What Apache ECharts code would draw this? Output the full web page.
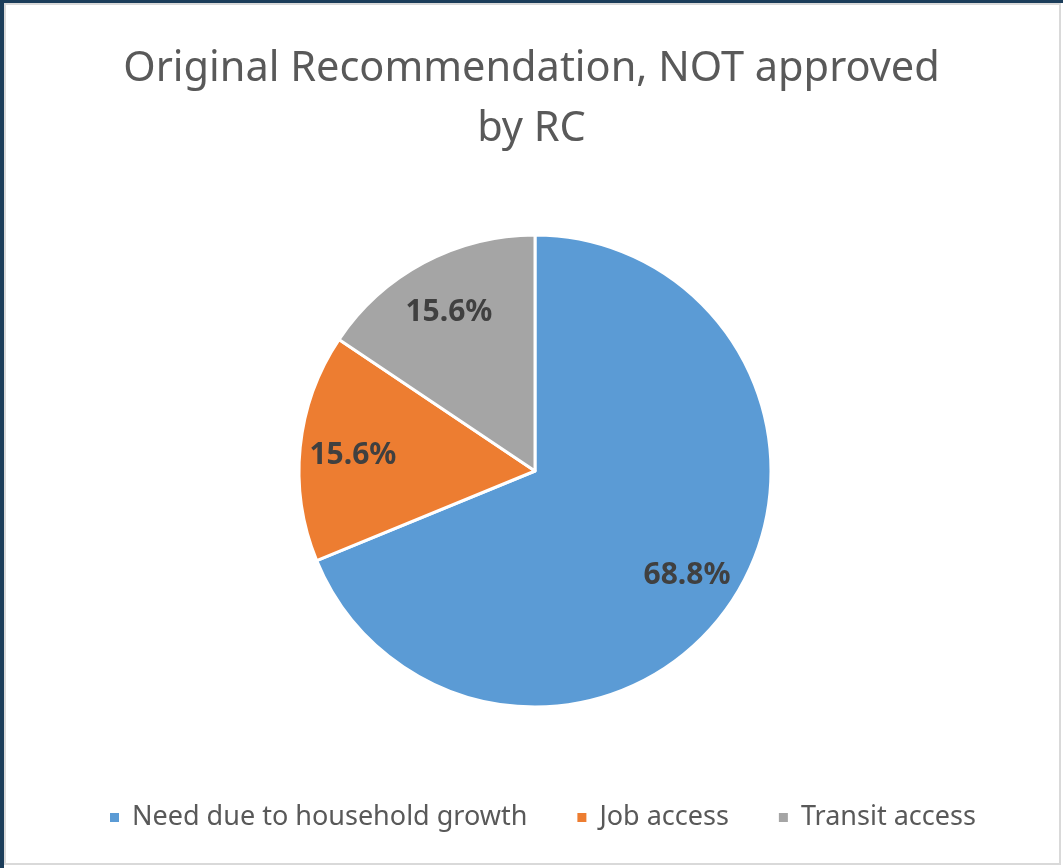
<!DOCTYPE html>
<html>
<head>
<meta charset="utf-8">
<script src="https://cdn.jsdelivr.net/npm/echarts@6/dist/echarts.min.js"></script>
<style>
  html, body { margin: 0; padding: 0; background: #fff; }
  #chart { position: absolute; left: 0; top: 0; width: 1063px; height: 868px; }
  .frame { position: absolute; pointer-events: none; }
</style>
</head>
<body>
<div id="chart"></div>
<!-- window frame: dark edge top/left, light grey chart border -->
<div class="frame" style="left:0;top:0;width:1063px;height:3px;background:#1b3d5a"></div>
<div class="frame" style="left:0;top:0;width:4px;height:868px;background:#1b3d5a"></div>
<div class="frame" style="left:4px;top:3px;width:1053px;height:858px;border:2px solid #d9d9d9"></div>
<script>
const categories = ['Need due to household growth', 'Job access', 'Transit access'];
const values = [68.8, 15.6, 15.6];
const colors = ['#5b9bd5', '#ed7d31', '#a5a5a5'];

const pieData = categories.map(function (name, i) {
  return { name: name, value: values[i], itemStyle: { color: colors[i] } };
});

const chart = echarts.init(document.getElementById('chart'));

const option = {
  backgroundColor: 'transparent',
  animation: false,
  title: {
    text: 'Original Recommendation, NOT approved\nby RC',
    left: 'center',
    top: 34,
    textStyle: {
      fontFamily: 'Noto Sans',
      fontWeight: 'normal',
      fontSize: 41.5,
      lineHeight: 60,
      color: '#595959'
    }
  },
  legend: {
    bottom: 37,
    left: 108,
    padding: 0,
    icon: 'rect',
    itemWidth: 11,
    itemHeight: 11,
    itemGap: 48,
    textStyle: {
      fontFamily: 'Noto Sans',
      fontSize: 27,
      color: '#595959',
      padding: [0, 0, 0, 7]
    },
    data: categories
  },
  series: [
    {
      // the visible pie
      type: 'pie',
      center: [535, 471],
      radius: [0, 236],
      startAngle: 90,
      clockwise: true,
      silent: true,
      itemStyle: { borderColor: '#fff', borderWidth: 3 },
      label: { show: false },
      labelLine: { show: false },
      data: pieData
    },
    {
      // transparent ring carrying the data labels further out
      type: 'pie',
      center: [535, 474],
      radius: [124, 236],
      startAngle: 90,
      clockwise: true,
      silent: true,
      legendHoverLink: false,
      itemStyle: { color: 'transparent', borderWidth: 0 },
      label: {
        show: true,
        position: 'inside',
        formatter: function (p) { return p.value.toFixed(1) + '%'; },
        fontFamily: 'Noto Sans',
        fontWeight: 'bold',
        fontSize: 30,
        color: '#404040'
      },
      labelLine: { show: false },
      data: categories.map(function (name, i) {
        return { name: name + ' ', value: values[i] };
      })
    }
  ]
};

chart.setOption(option);
</script>
</body>
</html>
